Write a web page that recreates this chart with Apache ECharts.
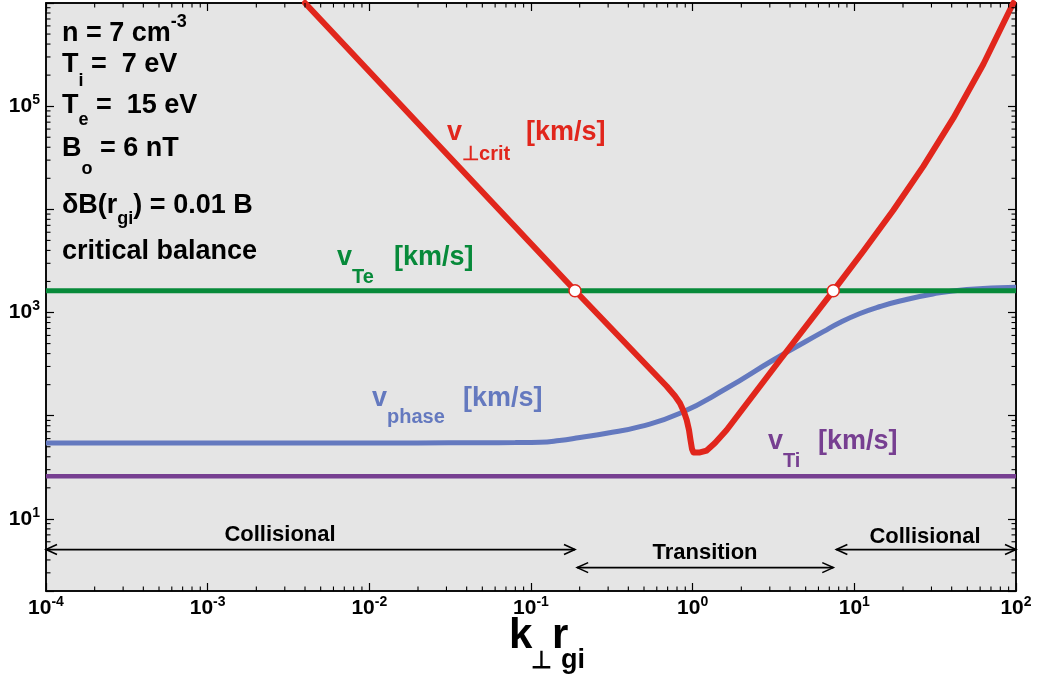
<!DOCTYPE html>
<html><head><meta charset="utf-8">
<script src="https://cdn.jsdelivr.net/npm/echarts@6/dist/echarts.min.js"></script>
<style>html,body{margin:0;padding:0;background:#fff}#c{width:1038px;height:677px}</style>
</head><body><div id="c"></div>
<script>
// ---------- data ----------
const xRange = [1e-4, 100];
const yRange = [2, 1e6];
const vTe = 1624;      // km/s
const vTi = 25.9;      // km/s
const phaseK = [1e-4, 1e-3, 1e-2, 0.02, 0.05, 0.08, 0.1136, 0.15, 0.2009, 0.2938, 0.4722, 0.8348, 1.623, 3.153, 6.427, 8.153, 10.84, 14.41, 19.16, 30.66, 49.55, 100];
const phaseV = [54.4, 54.4, 54.5, 54.5, 54.7, 54.9, 55.3, 57.5, 61.5, 67.5, 78.3, 105.5, 184.4, 346.8, 652, 801, 979, 1144, 1294, 1512, 1673, 1757];
const critK = [0.0040, 0.1871, 0.6905, 0.7776, 0.8348, 0.8839, 0.9186, 0.9490, 0.9696, 0.9906, 1.012, 1.110, 1.221, 1.374, 1.623, 3.467, 7.41, 11.36, 17.42, 26.70, 40.94, 62.78, 96.2];
const critV = [1e6, 1635, 192.8, 155.3, 131.9, 108.7, 90.9, 72.7, 58.2, 47.6, 44.0, 44.0, 46.0, 54.4, 72.7, 346.8, 1624, 3930, 9815, 26090, 76450, 254700, 1e6];
const crossK = [0.1871, 7.41];
// regime arrows: [k start, k end, height]
const regimeArrows = [[1e-4, 0.1871, 5.04], [0.193, 7.41, 3.37], [7.74, 100, 5.04]];
const regimeNames = ['Collisional', 'Transition', 'Collisional'];

// ---------- styles ----------
const FONT = "'Liberation Sans', Arial, Helvetica, sans-serif";
const RED = '#e1261c', GREEN = '#078a3a', BLUE = '#6479bf', PURPLE = '#773f91';

function powLabel(v, oddOnly) {
  const l = Math.log10(v), e = Math.round(l);
  if (Math.abs(l - e) > 1e-6) return '';
  if (oddOnly && Math.abs(e % 2) !== 1) return '';
  return '{b|10}{s|' + e + '}';
}
const labRich = {
  b: {fontSize: 21, fontWeight: 'bold', fontFamily: FONT, color: '#000'},
  s: {fontSize: 14, fontWeight: 'bold', fontFamily: FONT, color: '#000', padding: [0, 0, 12, 0]}
};

function minorVals(lo, hi) {
  const out = [];
  for (let e = Math.floor(Math.log10(lo)); e <= Math.ceil(Math.log10(hi)); e++)
    for (let m = 2; m <= 9; m++) { const v = m * Math.pow(10, e); if (v > lo * 1.0001 && v < hi * 0.9999) out.push(v); }
  return out;
}
const minorData = [];
minorVals(yRange[0], yRange[1]).forEach(v => { minorData.push([xRange[0], v, 0]); minorData.push([xRange[1], v, 1]); });
minorVals(xRange[0], xRange[1]).forEach(v => { minorData.push([v, yRange[0], 2]); minorData.push([v, yRange[1], 3]); });

const axisCommon = {
  type: 'log', logBase: 10,
  axisLine: {show: true, onZero: false, lineStyle: {color: '#000', width: 1.5}},
  axisTick: {show: true, inside: true, length: 8, lineStyle: {color: '#000', width: 1.2}},
  splitLine: {show: false}
};

function txt(x, y, rich, text, color, opts) {
  return {
    type: 'text', z: 100,
    style: Object.assign({x: x, y: y, text: text, rich: rich, fill: color, align: 'left', verticalAlign: 'middle',
      fontSize: 27, fontWeight: 'bold', fontFamily: FONT}, opts || {})
  };
}
function mkRich(color, mainSize, subSize, subPad, supPad) {
  return {
    m: {fontSize: mainSize, fontWeight: 'bold', fontFamily: FONT, color: color},
    sb: {fontSize: subSize, fontWeight: 'bold', fontFamily: FONT, color: color, padding: [subPad, 0, 0, 0]},
    sp: {fontSize: subSize, fontWeight: 'bold', fontFamily: FONT, color: color, padding: [0, 0, supPad, 0]}
  };
}

const graphics = [
  // parameter block
  txt(62, 34, mkRich('#000', 27, 18, 0, 24), '{m|n = 7 cm}{sp|-3}', '#000'),
  txt(62, 65, mkRich('#000', 27, 18, 32, 0), '{m|T}{sb|i}{m| =  7 eV}', '#000'),
  txt(62, 106, mkRich('#000', 27, 18, 29, 0), '{m|T}{sb|e}{m| =  15 eV}', '#000'),
  txt(62, 149, mkRich('#000', 27, 18, 40, 0), '{m|B}{sb|o}{m| = 6 nT}', '#000'),
  txt(62, 206, mkRich('#000', 27, 18, 27, 0), '{m|δB(r}{sb|gi}{m|) = 0.01 B}', '#000'),
  txt(62, 252, mkRich('#000', 27, 18, 0, 0), '{m|critical balance}', '#000'),
  // series labels
  txt(447, 133, mkRich(RED, 27, 20, 42, 0), '{m|v}{sb|⊥crit}', RED),
  txt(526, 133, mkRich(RED, 27, 20, 0, 0), '{m|[km/s]}', RED),
  txt(337, 258, mkRich(GREEN, 27, 20, 39, 0), '{m|v}{sb|Te}', GREEN),
  txt(394, 258, mkRich(GREEN, 27, 20, 0, 0), '{m|[km/s]}', GREEN),
  txt(372, 399, mkRich(BLUE, 27, 20, 36, 0), '{m|v}{sb|phase}', BLUE),
  txt(463, 399, mkRich(BLUE, 27, 20, 0, 0), '{m|[km/s]}', BLUE),
  txt(768, 442, mkRich(PURPLE, 27, 20, 38, 0), '{m|v}{sb|Ti}', PURPLE),
  txt(818, 442, mkRich(PURPLE, 27, 20, 0, 0), '{m|[km/s]}', PURPLE),
  // regime names
  txt(280, 535, null, regimeNames[0], '#000', {align: 'center', fontSize: 22}),
  txt(705, 553, null, regimeNames[1], '#000', {align: 'center', fontSize: 22}),
  txt(925, 537, null, regimeNames[2], '#000', {align: 'center', fontSize: 22}),
  // axis title
  txt(509, 636, null, 'k', '#000', {fontSize: 42}),
  txt(531, 661, null, '⊥', '#000', {fontSize: 24}),
  txt(552, 636, null, 'r', '#000', {fontSize: 42}),
  txt(561, 661, null, 'gi', '#000', {fontSize: 27})
];

const chart = echarts.init(document.getElementById('c'), null, {renderer: 'canvas'});
chart.setOption({
  animation: false,
  backgroundColor: '#ffffff',
  grid: {left: 46, right: 22, top: 3, bottom: 86, containLabel: false, outerBoundsMode: 'none',
         show: true, backgroundColor: '#e5e5e5', borderColor: '#000', borderWidth: 1.5},
  xAxis: [
    Object.assign({}, axisCommon, {min: xRange[0], max: xRange[1], position: 'bottom',
      axisLabel: {show: true, margin: 4, formatter: v => powLabel(v, false), rich: labRich}}),
    Object.assign({}, axisCommon, {min: xRange[0], max: xRange[1], position: 'top', axisLabel: {show: false}})
  ],
  yAxis: [
    Object.assign({}, axisCommon, {min: yRange[0], max: yRange[1], position: 'left',
      axisLabel: {show: true, margin: 6, formatter: v => powLabel(v, true), rich: labRich}}),
    Object.assign({}, axisCommon, {min: yRange[0], max: yRange[1], position: 'right', axisLabel: {show: false}})
  ],
  graphic: graphics,
  series: [
    {type: 'line', name: 'vTi', symbol: 'none', z: 2, data: [[xRange[0], vTi], [xRange[1], vTi]],
     lineStyle: {color: PURPLE, width: 4.5}},
    {type: 'line', name: 'vphase', symbol: 'none', z: 3, smooth: 0.5, data: phaseK.map((k, i) => [k, phaseV[i]]),
     lineStyle: {color: BLUE, width: 5}},
    {type: 'line', name: 'vTe', symbol: 'none', z: 4, data: [[xRange[0], vTe], [xRange[1], vTe]],
     lineStyle: {color: GREEN, width: 5}},
    {type: 'line', name: 'vcrit', symbol: 'none', z: 5, smooth: false, data: critK.map((k, i) => [k, critV[i]]),
     lineStyle: {color: RED, width: 6, join: 'round', cap: 'round'}},
    {type: 'scatter', name: 'cross', z: 6, symbol: 'circle', symbolSize: 12,
     data: crossK.map(k => [k, vTe]), itemStyle: {color: '#ffffff', opacity: 1, borderColor: RED, borderWidth: 1.5}},
    {type: 'custom', name: 'arrows', z: 7, silent: true, clip: false,
     encode: {x: [0, 1], y: 2}, data: regimeArrows,
     renderItem: function (params, api) {
       const p1 = api.coord([api.value(0), api.value(2)]);
       const p2 = api.coord([api.value(1), api.value(2)]);
       const st = {stroke: '#000', lineWidth: 1.6, fill: null};
       const L = 11, H = 5;
       return {type: 'group', children: [
         {type: 'line', shape: {x1: p1[0], y1: p1[1], x2: p2[0], y2: p2[1]}, style: st},
         {type: 'polyline', shape: {points: [[p1[0] + L, p1[1] - H], [p1[0], p1[1]], [p1[0] + L, p1[1] + H]]}, style: st},
         {type: 'polyline', shape: {points: [[p2[0] - L, p2[1] - H], [p2[0], p2[1]], [p2[0] - L, p2[1] + H]]}, style: st}
       ]};
     }},
    {type: 'custom', name: 'minorTicks', z: 8, silent: true, clip: false,
     encode: {x: 0, y: 1}, data: minorData,
     renderItem: function (params, api) {
       const p = api.coord([api.value(0), api.value(1)]);
       const d = api.value(2), L = 4.5;
       const q = d === 0 ? [p[0] + L, p[1]] : d === 1 ? [p[0] - L, p[1]] : d === 2 ? [p[0], p[1] - L] : [p[0], p[1] + L];
       return {type: 'line', shape: {x1: p[0], y1: p[1], x2: q[0], y2: q[1]}, style: {stroke: '#000', lineWidth: 1.1}};
     }}
  ]
});
</script>
</body></html>
